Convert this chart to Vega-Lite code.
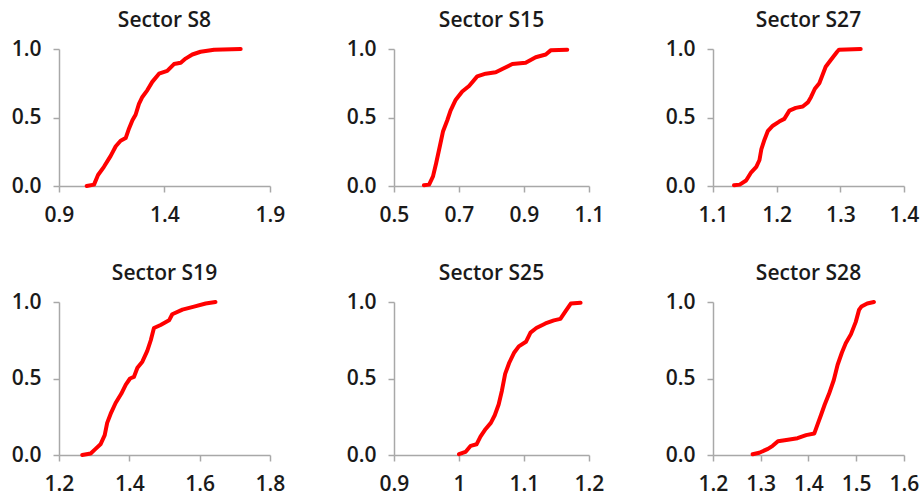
{
  "$schema": "https://vega.github.io/schema/vega-lite/v6.json",
  "padding": {"left": 11, "top": 10, "right": 5, "bottom": 5},
  "background": "white",
  "datasets": {
    "cdf": [
      {"sector": "S8", "x": 1.031, "p": 0.0},
      {"sector": "S8", "x": 1.066, "p": 0.01},
      {"sector": "S8", "x": 1.085, "p": 0.08},
      {"sector": "S8", "x": 1.113, "p": 0.14},
      {"sector": "S8", "x": 1.145, "p": 0.22},
      {"sector": "S8", "x": 1.169, "p": 0.29},
      {"sector": "S8", "x": 1.192, "p": 0.33},
      {"sector": "S8", "x": 1.216, "p": 0.35},
      {"sector": "S8", "x": 1.232, "p": 0.42},
      {"sector": "S8", "x": 1.248, "p": 0.48},
      {"sector": "S8", "x": 1.263, "p": 0.52},
      {"sector": "S8", "x": 1.279, "p": 0.6},
      {"sector": "S8", "x": 1.295, "p": 0.65},
      {"sector": "S8", "x": 1.319, "p": 0.7},
      {"sector": "S8", "x": 1.342, "p": 0.76},
      {"sector": "S8", "x": 1.374, "p": 0.82},
      {"sector": "S8", "x": 1.413, "p": 0.84},
      {"sector": "S8", "x": 1.445, "p": 0.89},
      {"sector": "S8", "x": 1.477, "p": 0.9},
      {"sector": "S8", "x": 1.5, "p": 0.93},
      {"sector": "S8", "x": 1.532, "p": 0.96},
      {"sector": "S8", "x": 1.571, "p": 0.98},
      {"sector": "S8", "x": 1.635, "p": 0.995},
      {"sector": "S8", "x": 1.761, "p": 1.0},

      {"sector": "S15", "x": 0.592, "p": 0.005},
      {"sector": "S15", "x": 0.608, "p": 0.01},
      {"sector": "S15", "x": 0.62, "p": 0.07},
      {"sector": "S15", "x": 0.63, "p": 0.17},
      {"sector": "S15", "x": 0.641, "p": 0.29},
      {"sector": "S15", "x": 0.651, "p": 0.4},
      {"sector": "S15", "x": 0.664, "p": 0.48},
      {"sector": "S15", "x": 0.674, "p": 0.55},
      {"sector": "S15", "x": 0.69, "p": 0.63},
      {"sector": "S15", "x": 0.71, "p": 0.69},
      {"sector": "S15", "x": 0.731, "p": 0.73},
      {"sector": "S15", "x": 0.756, "p": 0.8},
      {"sector": "S15", "x": 0.782, "p": 0.82},
      {"sector": "S15", "x": 0.813, "p": 0.83},
      {"sector": "S15", "x": 0.838, "p": 0.86},
      {"sector": "S15", "x": 0.864, "p": 0.89},
      {"sector": "S15", "x": 0.905, "p": 0.9},
      {"sector": "S15", "x": 0.936, "p": 0.94},
      {"sector": "S15", "x": 0.967, "p": 0.96},
      {"sector": "S15", "x": 0.982, "p": 0.99},
      {"sector": "S15", "x": 1.033, "p": 0.995},

      {"sector": "S27", "x": 1.133, "p": 0.005},
      {"sector": "S27", "x": 1.142, "p": 0.01},
      {"sector": "S27", "x": 1.152, "p": 0.04},
      {"sector": "S27", "x": 1.16, "p": 0.1},
      {"sector": "S27", "x": 1.168, "p": 0.14},
      {"sector": "S27", "x": 1.173, "p": 0.19},
      {"sector": "S27", "x": 1.176, "p": 0.27},
      {"sector": "S27", "x": 1.181, "p": 0.34},
      {"sector": "S27", "x": 1.186, "p": 0.4},
      {"sector": "S27", "x": 1.194, "p": 0.44},
      {"sector": "S27", "x": 1.204, "p": 0.47},
      {"sector": "S27", "x": 1.212, "p": 0.49},
      {"sector": "S27", "x": 1.22, "p": 0.55},
      {"sector": "S27", "x": 1.23, "p": 0.57},
      {"sector": "S27", "x": 1.241, "p": 0.58},
      {"sector": "S27", "x": 1.249, "p": 0.61},
      {"sector": "S27", "x": 1.254, "p": 0.65},
      {"sector": "S27", "x": 1.26, "p": 0.71},
      {"sector": "S27", "x": 1.267, "p": 0.75},
      {"sector": "S27", "x": 1.272, "p": 0.81},
      {"sector": "S27", "x": 1.277, "p": 0.87},
      {"sector": "S27", "x": 1.285, "p": 0.92},
      {"sector": "S27", "x": 1.295, "p": 0.98},
      {"sector": "S27", "x": 1.298, "p": 0.995},
      {"sector": "S27", "x": 1.332, "p": 1.0},

      {"sector": "S19", "x": 1.266, "p": 0.0},
      {"sector": "S19", "x": 1.29, "p": 0.01},
      {"sector": "S19", "x": 1.304, "p": 0.04},
      {"sector": "S19", "x": 1.318, "p": 0.07},
      {"sector": "S19", "x": 1.33, "p": 0.13},
      {"sector": "S19", "x": 1.337, "p": 0.21},
      {"sector": "S19", "x": 1.347, "p": 0.27},
      {"sector": "S19", "x": 1.361, "p": 0.34},
      {"sector": "S19", "x": 1.377, "p": 0.4},
      {"sector": "S19", "x": 1.39, "p": 0.46},
      {"sector": "S19", "x": 1.402, "p": 0.5},
      {"sector": "S19", "x": 1.413, "p": 0.51},
      {"sector": "S19", "x": 1.423, "p": 0.57},
      {"sector": "S19", "x": 1.437, "p": 0.61},
      {"sector": "S19", "x": 1.451, "p": 0.68},
      {"sector": "S19", "x": 1.461, "p": 0.75},
      {"sector": "S19", "x": 1.47, "p": 0.83},
      {"sector": "S19", "x": 1.489, "p": 0.85},
      {"sector": "S19", "x": 1.513, "p": 0.88},
      {"sector": "S19", "x": 1.522, "p": 0.92},
      {"sector": "S19", "x": 1.551, "p": 0.95},
      {"sector": "S19", "x": 1.584, "p": 0.97},
      {"sector": "S19", "x": 1.617, "p": 0.99},
      {"sector": "S19", "x": 1.645, "p": 1.0},

      {"sector": "S25", "x": 1.0, "p": 0.005},
      {"sector": "S25", "x": 1.01, "p": 0.02},
      {"sector": "S25", "x": 1.018, "p": 0.06},
      {"sector": "S25", "x": 1.027, "p": 0.07},
      {"sector": "S25", "x": 1.033, "p": 0.12},
      {"sector": "S25", "x": 1.041, "p": 0.17},
      {"sector": "S25", "x": 1.049, "p": 0.21},
      {"sector": "S25", "x": 1.055, "p": 0.26},
      {"sector": "S25", "x": 1.061, "p": 0.33},
      {"sector": "S25", "x": 1.066, "p": 0.42},
      {"sector": "S25", "x": 1.071, "p": 0.53},
      {"sector": "S25", "x": 1.077, "p": 0.6},
      {"sector": "S25", "x": 1.085, "p": 0.67},
      {"sector": "S25", "x": 1.092, "p": 0.71},
      {"sector": "S25", "x": 1.103, "p": 0.74},
      {"sector": "S25", "x": 1.11, "p": 0.8},
      {"sector": "S25", "x": 1.119, "p": 0.83},
      {"sector": "S25", "x": 1.133, "p": 0.86},
      {"sector": "S25", "x": 1.146, "p": 0.88},
      {"sector": "S25", "x": 1.156, "p": 0.89},
      {"sector": "S25", "x": 1.164, "p": 0.94},
      {"sector": "S25", "x": 1.172, "p": 0.99},
      {"sector": "S25", "x": 1.187, "p": 0.995},

      {"sector": "S28", "x": 1.283, "p": 0.005},
      {"sector": "S28", "x": 1.297, "p": 0.015},
      {"sector": "S28", "x": 1.315, "p": 0.04},
      {"sector": "S28", "x": 1.325, "p": 0.06},
      {"sector": "S28", "x": 1.336, "p": 0.09},
      {"sector": "S28", "x": 1.357, "p": 0.1},
      {"sector": "S28", "x": 1.377, "p": 0.11},
      {"sector": "S28", "x": 1.395, "p": 0.13},
      {"sector": "S28", "x": 1.412, "p": 0.14},
      {"sector": "S28", "x": 1.419, "p": 0.2},
      {"sector": "S28", "x": 1.426, "p": 0.26},
      {"sector": "S28", "x": 1.434, "p": 0.33},
      {"sector": "S28", "x": 1.443, "p": 0.4},
      {"sector": "S28", "x": 1.453, "p": 0.49},
      {"sector": "S28", "x": 1.461, "p": 0.59},
      {"sector": "S28", "x": 1.47, "p": 0.67},
      {"sector": "S28", "x": 1.478, "p": 0.73},
      {"sector": "S28", "x": 1.489, "p": 0.79},
      {"sector": "S28", "x": 1.499, "p": 0.87},
      {"sector": "S28", "x": 1.506, "p": 0.95},
      {"sector": "S28", "x": 1.511, "p": 0.97},
      {"sector": "S28", "x": 1.523, "p": 0.99},
      {"sector": "S28", "x": 1.537, "p": 1.0}
    ]
  },
  "data": {"name": "cdf"},
  "bounds": "flush",
  "columns": 3,
  "spacing": {"row": 116, "column": 124},
  "concat": [
    {
      "title": "Sector S8",
      "width": 211, "height": 137,
      "transform": [{"filter": "datum.sector === 'S8'"}],
      "mark": {"type": "line", "color": "#ff0000", "strokeWidth": 4, "strokeCap": "round", "strokeJoin": "round"},
      "encoding": {
        "x": {"field": "x", "type": "quantitative", "title": null, "scale": {"domain": [0.9, 1.9], "nice": false, "zero": false}, "axis": {"values": [0.9, 1.4, 1.9], "format": ".1f"}},
        "y": {"field": "p", "type": "quantitative", "title": null, "scale": {"domain": [0, 1], "nice": false}, "axis": {"values": [0, 0.5, 1], "format": ".1f"}}
      }
    },
    {
      "title": "Sector S15",
      "width": 195, "height": 137,
      "transform": [{"filter": "datum.sector === 'S15'"}],
      "mark": {"type": "line", "color": "#ff0000", "strokeWidth": 4, "strokeCap": "round", "strokeJoin": "round"},
      "encoding": {
        "x": {"field": "x", "type": "quantitative", "title": null, "scale": {"domain": [0.5, 1.1], "nice": false, "zero": false}, "axis": {"values": [0.5, 0.7, 0.9, 1.1], "format": ".1f"}},
        "y": {"field": "p", "type": "quantitative", "title": null, "scale": {"domain": [0, 1], "nice": false}, "axis": {"values": [0, 0.5, 1], "format": ".1f"}}
      }
    },
    {
      "title": "Sector S27",
      "width": 191, "height": 137,
      "transform": [{"filter": "datum.sector === 'S27'"}],
      "mark": {"type": "line", "color": "#ff0000", "strokeWidth": 4, "strokeCap": "round", "strokeJoin": "round"},
      "encoding": {
        "x": {"field": "x", "type": "quantitative", "title": null, "scale": {"domain": [1.1, 1.4], "nice": false, "zero": false}, "axis": {"values": [1.1, 1.2, 1.3, 1.4], "format": ".1f"}},
        "y": {"field": "p", "type": "quantitative", "title": null, "scale": {"domain": [0, 1], "nice": false}, "axis": {"values": [0, 0.5, 1], "format": ".1f"}}
      }
    },
    {
      "title": "Sector S19",
      "width": 211, "height": 153,
      "transform": [{"filter": "datum.sector === 'S19'"}],
      "mark": {"type": "line", "color": "#ff0000", "strokeWidth": 4, "strokeCap": "round", "strokeJoin": "round"},
      "encoding": {
        "x": {"field": "x", "type": "quantitative", "title": null, "scale": {"domain": [1.2, 1.8], "nice": false, "zero": false}, "axis": {"values": [1.2, 1.4, 1.6, 1.8], "format": ".1f"}},
        "y": {"field": "p", "type": "quantitative", "title": null, "scale": {"domain": [0, 1], "nice": false}, "axis": {"values": [0, 0.5, 1], "format": ".1f"}}
      }
    },
    {
      "title": "Sector S25",
      "width": 195, "height": 153,
      "transform": [{"filter": "datum.sector === 'S25'"}],
      "mark": {"type": "line", "color": "#ff0000", "strokeWidth": 4, "strokeCap": "round", "strokeJoin": "round"},
      "encoding": {
        "x": {"field": "x", "type": "quantitative", "title": null, "scale": {"domain": [0.9, 1.2], "nice": false, "zero": false}, "axis": {"values": [0.9, 1.0, 1.1, 1.2], "format": "~g"}},
        "y": {"field": "p", "type": "quantitative", "title": null, "scale": {"domain": [0, 1], "nice": false}, "axis": {"values": [0, 0.5, 1], "format": ".1f"}}
      }
    },
    {
      "title": "Sector S28",
      "width": 191, "height": 153,
      "transform": [{"filter": "datum.sector === 'S28'"}],
      "mark": {"type": "line", "color": "#ff0000", "strokeWidth": 4, "strokeCap": "round", "strokeJoin": "round"},
      "encoding": {
        "x": {"field": "x", "type": "quantitative", "title": null, "scale": {"domain": [1.2, 1.6], "nice": false, "zero": false}, "axis": {"values": [1.2, 1.3, 1.4, 1.5, 1.6], "format": ".1f"}},
        "y": {"field": "p", "type": "quantitative", "title": null, "scale": {"domain": [0, 1], "nice": false}, "axis": {"values": [0, 0.5, 1], "format": ".1f"}}
      }
    }
  ],
  "config": {
    "view": {"stroke": null},
    "font": "Open Sans",
    "axis": {
      "grid": false,
      "domainColor": "#a8a8a8",
      "domainWidth": 1.5,
      "tickColor": "#a8a8a8",
      "tickWidth": 1.5,
      "tickSize": 6,
      "labelFont": "Open Sans",
      "labelFontSize": 21,
      "labelFontWeight": 600,
      "labelColor": "#1a1a1a",
      "labelFlush": false,
      "labelOverlap": false
    },
    "axisX": {"labelPadding": 12},
    "axisY": {"labelPadding": 12},
    "title": {"font": "Open Sans", "fontSize": 21, "fontWeight": 600, "color": "#1a1a1a", "offset": 7, "anchor": "middle"}
  }
}
